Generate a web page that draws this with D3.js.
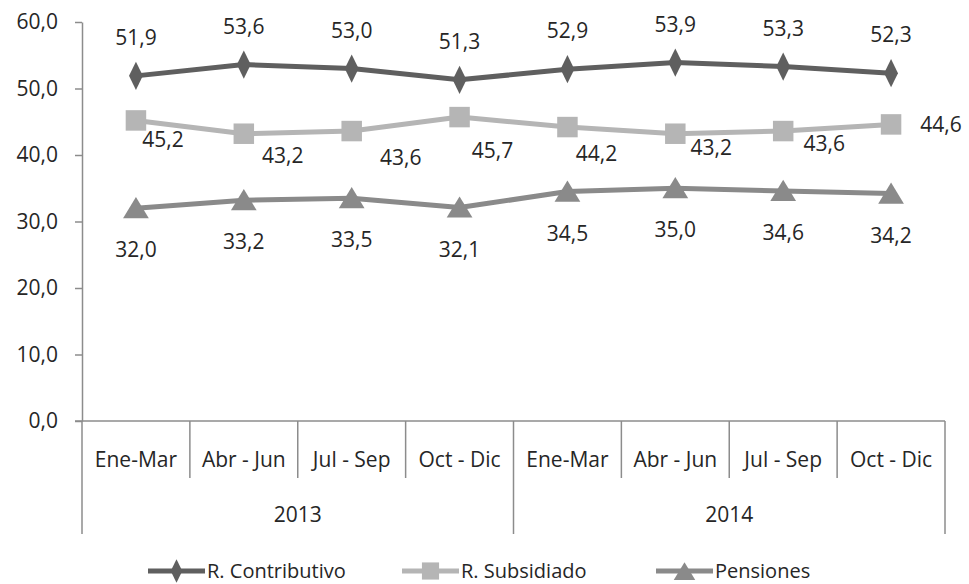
<!DOCTYPE html>
<html>
<head>
<meta charset="utf-8">
<script src="https://cdn.jsdelivr.net/npm/d3@7"></script>
<style>
  body { margin: 0; background: #fff; }
  text { font-family: "Open Sans", Lato, sans-serif; fill: #262626; }
</style>
</head>
<body>
<svg id="chart" width="969" height="584"></svg>
<script>
// data
const years = ['2013', '2014'];
const quarters = ['Ene-Mar', 'Abr - Jun', 'Jul - Sep', 'Oct - Dic'];
const contributivo = [51.9, 53.6, 53.0, 51.3, 52.9, 53.9, 53.3, 52.3];
const subsidiado = [45.2, 43.2, 43.6, 45.7, 44.2, 43.2, 43.6, 44.6];
const pensiones = [32.0, 33.2, 33.5, 32.1, 34.5, 35.0, 34.6, 34.2];
const yTicks = [0, 10, 20, 30, 40, 50, 60];

// label nudges for the subsidiado series (placed by hand in the original)
const subNudge = [[27, 19], [39, 21], [49, 26], [33, 33], [29, 26], [36, 13], [41, 12], [50, 0]];

const categories = [];
years.forEach(y => quarters.forEach(q => categories.push(y + '|' + q)));

const margin = {top: 22, right: 24, bottom: 163, left: 82};
const width = 969, height = 584;
const fmt = v => d3.format('.1f')(v).replace('.', ',');

const svg = d3.select('#chart');

const x = d3.scaleBand()
  .domain(categories)
  .range([margin.left, width - margin.right]);

const y = d3.scaleLinear()
  .domain([0, 60])
  .range([height - margin.bottom, margin.top]);

const axisColor = '#8c8c8c';
const y0 = y(0);
const labelSize = '21px';

// y axis
const gy = svg.append('g')
  .attr('transform', `translate(${margin.left},0)`)
  .call(d3.axisLeft(y).tickValues(yTicks).tickFormat(fmt).tickSize(7).tickPadding(17).tickSizeOuter(0));
gy.select('.domain').attr('stroke', axisColor).attr('stroke-width', 1.5);
gy.selectAll('.tick line').attr('stroke', axisColor).attr('stroke-width', 1.5);
gy.selectAll('.tick text').style('font-size', labelSize).attr('fill', '#262626');

// x axis, two levels
const gx = svg.append('g');
gx.append('line')
  .attr('x1', margin.left - 7).attr('x2', x.range()[1])
  .attr('y1', y0).attr('y2', y0)
  .attr('stroke', axisColor).attr('stroke-width', 1.5);

categories.forEach((c, i) => {
  const xs = x(c);
  const isYearEdge = i % quarters.length === 0;
  gx.append('line')
    .attr('x1', xs).attr('x2', xs)
    .attr('y1', y0).attr('y2', isYearEdge ? y0 + 113 : y0 + 57)
    .attr('stroke', axisColor).attr('stroke-width', 1.5);
  gx.append('text')
    .attr('x', xs + x.bandwidth() / 2)
    .attr('y', y0 + 46)
    .attr('text-anchor', 'middle')
    .style('font-size', '21px')
    .text(c.split('|')[1]);
});
gx.append('line')
  .attr('x1', x.range()[1]).attr('x2', x.range()[1])
  .attr('y1', y0).attr('y2', y0 + 113)
  .attr('stroke', axisColor).attr('stroke-width', 1.5);

years.forEach(yr => {
  const first = x(yr + '|' + quarters[0]);
  const last = x(yr + '|' + quarters[quarters.length - 1]) + x.bandwidth();
  gx.append('text')
    .attr('x', (first + last) / 2)
    .attr('y', y0 + 101)
    .attr('text-anchor', 'middle')
    .style('font-size', '21px')
    .text(yr);
});

const series = [
  {name: 'R. Contributivo', values: contributivo, color: '#5f5f5f', symbol: d3.symbolDiamond, size: 230, sx: 0.85},
  {name: 'R. Subsidiado', values: subsidiado, color: '#b5b5b5', symbol: d3.symbolSquare, size: 420, sx: 1},
  {name: 'Pensiones', values: pensiones, color: '#8a8a8a', symbol: d3.symbolTriangle, size: 260, sx: 1.05}
];

const line = d3.line()
  .x((d, i) => x(categories[i]) + x.bandwidth() / 2)
  .y(d => y(d));

series.forEach(s => {
  const g = svg.append('g');
  g.append('path')
    .datum(s.values)
    .attr('fill', 'none')
    .attr('stroke', s.color)
    .attr('stroke-width', 5)
    .attr('stroke-linejoin', 'round')
    .attr('d', line);

  g.selectAll('.pt').data(s.values).join('path')
    .attr('class', 'pt')
    .attr('fill', s.color)
    .attr('d', d3.symbol().type(s.symbol).size(s.size))
    .attr('transform', (d, i) => {
      const ty = s.symbol === d3.symbolTriangle ? 3 : 0;
      return `translate(${x(categories[i]) + x.bandwidth() / 2},${y(d) + ty}) scale(${s.sx},1)`;
    });
});

// data labels
const cx = i => x(categories[i]) + x.bandwidth() / 2;
svg.append('g').selectAll('text').data(contributivo).join('text')
  .attr('x', (d, i) => cx(i))
  .attr('y', d => y(d) - 31)
  .attr('text-anchor', 'middle')
  .style('font-size', labelSize)
  .text(fmt);

svg.append('g').selectAll('text').data(subsidiado).join('text')
  .attr('x', (d, i) => cx(i) + subNudge[i][0])
  .attr('y', (d, i) => y(d) + subNudge[i][1] + 8)
  .attr('text-anchor', 'middle')
  .style('font-size', labelSize)
  .text(fmt);

svg.append('g').selectAll('text').data(pensiones).join('text')
  .attr('x', (d, i) => cx(i))
  .attr('y', d => y(d) + 49)
  .attr('text-anchor', 'middle')
  .style('font-size', labelSize)
  .text(fmt);

// legend
const legendX = [148, 402, 656];
const ly = 571;
series.forEach((s, i) => {
  const g = svg.append('g').attr('transform', `translate(${legendX[i]},${ly})`);
  g.append('line')
    .attr('x1', 0).attr('x2', 57)
    .attr('stroke', s.color).attr('stroke-width', 5);
  g.append('path')
    .attr('fill', s.color)
    .attr('d', d3.symbol().type(s.symbol).size(s.size * 0.7))
    .attr('transform', `translate(28.5,${s.symbol === d3.symbolTriangle ? 3 : 0}) scale(${s.sx},1)`);
  g.append('text')
    .attr('x', 59)
    .attr('y', 0)
    .attr('dy', '0.33em')
    .style('font-size', '20px')
    .text(s.name);
});
</script>
</body>
</html>
